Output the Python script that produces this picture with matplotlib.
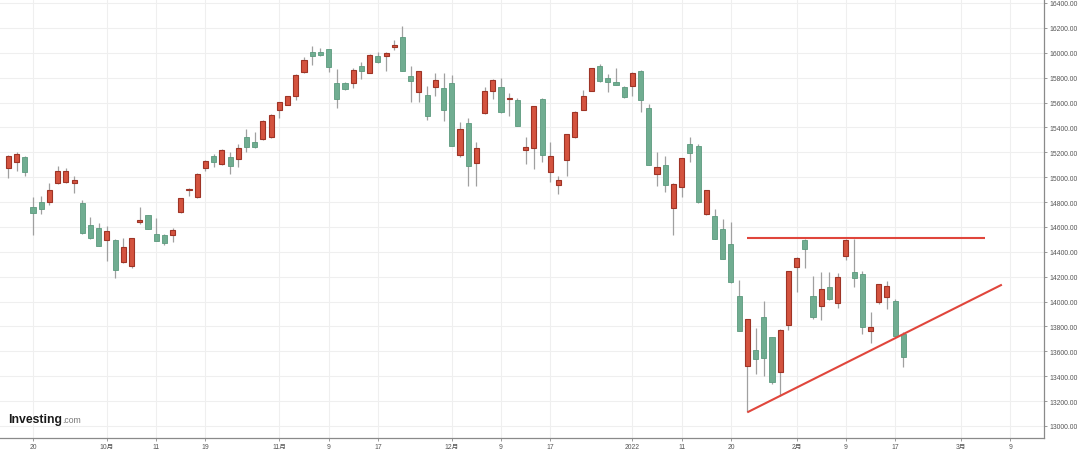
import matplotlib
matplotlib.use("Agg")
import matplotlib.pyplot as plt
import pandas as pd
import numpy as np

plt.rcParams['font.family'] = ['Liberation Sans', 'Noto Sans CJK SC', 'DejaVu Sans']

# ---- data (Nasdaq composite daily candles) ----
first_day = "2021-09-15"
last_day = "2022-02-18"
market_holidays = ["2021-11-25", "2021-12-24", "2022-01-17"]

opens = [15071, 15120, 15165, 14760, 14803, 14803, 14956, 14964, 14956, 14790, 14616, 14589,
         14497, 14497, 14316, 14289, 14637, 14694, 14543, 14538, 14538, 14718, 14895, 14838,
         15071, 15168, 15106, 15160, 15146, 15321, 15280, 15307, 15321,
         15542, 15583, 15655, 15848, 16004, 16004, 16030, 15755, 15755, 15755, 15896, 15837,
         15977, 15977, 16044, 16124, 15811, 15682, 15663, 15722, 15717,
         15757, 15181, 15436, 15114, 15514, 15695, 15722, 15628, 15623, 15221, 15232, 15628,
         15039, 14937, 15141, 15321, 15542, 15695, 15896, 15797, 15763, 15727,
         15735, 15856, 15554, 15026, 15098, 14750, 14924, 15267, 15248, 14704, 14686, 14584,
         14463, 14047, 13485, 13611, 13874, 13713, 13436, 13812,
         14276, 14497, 14047, 13962, 14120, 13986, 14369, 14235, 14222, 13766, 13999, 14039,
         14007, 13740]
highs = [15178, 15205, 15170, 14838, 14851, 14951, 15087, 15071, 15007, 14817, 14678, 14634,
         14605, 14505, 14511, 14512, 14758, 14698, 14669, 14540, 14589, 14834, 14911, 15030,
         15141, 15186, 15227, 15200, 15267, 15387, 15366, 15460, 15505,
         15607, 15655, 15829, 15964, 16057, 16036, 16034, 15870, 15768, 15875, 15923, 15990,
         16004, 16009, 16100, 16213, 15896, 15855, 15735, 15837, 15835,
         15821, 15446, 15473, 15285, 15722, 15790, 15795, 15677, 15636, 15321, 15575, 15636,
         15285, 15007, 15350, 15535, 15703, 15880, 15910, 15829, 15875, 15730,
         15842, 15858, 15588, 15200, 15173, 14950, 15155, 15321, 15267, 14900, 14744, 14664,
         14637, 14174, 13862, 13785, 14007, 13715, 13780, 14245,
         14356, 14503, 14208, 14235, 14235, 14230, 14500, 14503, 14248, 13919, 14143, 14163,
         14020, 13758]
lows = [14993, 15052, 15007, 14535, 14704, 14776, 14943, 14953, 14873, 14545, 14503, 14445,
        14329, 14187, 14310, 14268, 14624, 14580, 14485, 14455, 14477, 14714, 14851, 14835,
        15052, 15079, 15100, 15026, 15079, 15205, 15235, 15300, 15315,
        15476, 15580, 15620, 15837, 15904, 15972, 15843, 15554, 15703, 15714, 15789, 15835,
        15915, 15851, 16025, 15850, 15607, 15602, 15462, 15650, 15454,
        15248, 15160, 14932, 14932, 15510, 15628, 15517, 15489, 15410, 15106, 15066, 15124,
        14964, 14865, 15012, 15315, 15540, 15690, 15763, 15687, 15740, 15640,
        15650, 15522, 15095, 14927, 14883, 14538, 14838, 15124, 14790, 14696, 14500, 14340,
        14149, 13765, 13110, 13418, 13399, 13338, 13244, 13772,
        14080, 14268, 13860, 13854, 14015, 13946, 14337, 14115, 13740, 13667, 13981, 13940,
        13718, 13472]
closes = [15168, 15186, 15044, 14712, 14747, 14899, 15052, 15047, 14975, 14549, 14511, 14449,
          14565, 14256, 14436, 14509, 14658, 14584, 14489, 14469, 14575, 14830, 14899, 15026,
          15133, 15124, 15221, 15092, 15232, 15240, 15240, 15454, 15500,
          15602, 15650, 15821, 15944, 15972, 15985, 15888, 15628, 15709, 15864, 15851, 15982,
          15923, 15998, 16063, 15856, 15775, 15851, 15494, 15784, 15542,
          15253, 15387, 15087, 15232, 15690, 15784, 15522, 15634, 15414, 15240, 15570, 15181,
          15173, 14980, 15347, 15522, 15655, 15875, 15775, 15768, 15743, 15642,
          15837, 15623, 15100, 15084, 14937, 14945, 15152, 15192, 14803, 14897, 14503, 14342,
          14155, 13766, 13860, 13539, 13544, 13351, 13772, 14243,
          14348, 14423, 13879, 14101, 14021, 14195, 14497, 14187, 13793, 13793, 14141, 14128,
          13721, 13552]

tick_dates = ["2021-09-20", "2021-10-01", "2021-10-11", "2021-10-19", "2021-11-01", "2021-11-09",
              "2021-11-17", "2021-12-01", "2021-12-09", "2021-12-17", "2022-01-03", "2022-01-11",
              "2022-01-20", "2022-02-01", "2022-02-09", "2022-02-17", "2022-03-01", "2022-03-09"]
tick_labels = ["20", "10月", "11", "19", "11月", "9", "17", "12月", "9", "17", "2022", "11",
               "20", "2月", "9", "17", "3月", "9"]

# drawn trend lines (date, value)
resistance_dates = ["2022-01-24", "2022-03-04"]
resistance_values = [14507, 14507]
support_dates = ["2022-01-24", "2022-03-08"]
support_values = [13110, 14136]

y_ticks = list(range(13000, 16401, 200))

# ---- trading-day axis ----
days = pd.bdate_range(first_day, last_day)
days = days[~days.isin(pd.to_datetime(market_holidays))]
future = pd.bdate_range(pd.Timestamp(last_day) + pd.Timedelta(days=1), "2022-03-31")
all_days = list(days) + list(future)
pos = {d.strftime("%Y-%m-%d"): i for i, d in enumerate(all_days)}

n = len(opens)
x = np.arange(n)
o = np.array(opens, float); h = np.array(highs, float)
l = np.array(lows, float); c = np.array(closes, float)
up = c >= o

W, H = 1080, 452
fig = plt.figure(figsize=(W / 100, H / 100), dpi=100)
fig.patch.set_facecolor("white")
ax = fig.add_axes([0, 13 / H, 1044 / W, 439 / H])
ax.set_facecolor("white")

red_fill, red_edge = "#d4533f", "#9e3426"
green_fill, green_edge = "#70ad91", "#5c9a7e"
wick_col = "#a0a0a0"

ax.vlines(x, l, h, color=wick_col, linewidth=0.9, zorder=2)
body_bottom = np.minimum(o, c)
body_height = np.maximum(np.abs(c - o), 6)
ax.bar(x[up], body_height[up], bottom=body_bottom[up], width=0.62,
       color=red_fill, edgecolor=red_edge, linewidth=0.8, zorder=3)
ax.bar(x[~up], body_height[~up], bottom=body_bottom[~up], width=0.62,
       color=green_fill, edgecolor=green_edge, linewidth=0.6, zorder=3)

line_col = "#e0463c"
ax.plot([pos[d] for d in resistance_dates], resistance_values, color=line_col, lw=1.5, zorder=4,
        solid_capstyle="butt")
ax.plot([pos[d] for d in support_dates], support_values, color=line_col, lw=1.5, zorder=4,
        solid_capstyle="butt")

ax.set_xlim(-1.02, 126.13)
ax.set_ylim(12903.5, 16432)

ax.set_xticks([pos[d] for d in tick_dates])
ax.set_xticklabels(tick_labels)
ax.set_yticks(y_ticks)
ax.set_yticklabels([f"{v:.2f}" for v in y_ticks])
ax.yaxis.tick_right()
ax.tick_params(axis="both", colors="#888888", labelcolor="#555555", labelsize=4.9,
               length=2.5, width=0.6)
ax.tick_params(axis="y", pad=1.5)
ax.tick_params(axis="x", pad=1.2)

ax.grid(True, color="#efefef", linewidth=0.8, zorder=0)
ax.set_axisbelow(True)
for s in ["top", "left"]:
    ax.spines[s].set_visible(False)
for s in ["right", "bottom"]:
    ax.spines[s].set_color("#8a8a8a")
    ax.spines[s].set_linewidth(0.9)

fig.text(8 / W, 1 - 423 / H, "Investing", fontsize=8.8, fontweight="bold", color="#1a1a1a",
         family=["Liberation Sans"], va="baseline", ha="left")
fig.text(62 / W, 1 - 423 / H, ".com", fontsize=6.2, color="#777777",
         family=["Liberation Sans"], va="baseline", ha="left")

fig.savefig("out.png", dpi=100)
